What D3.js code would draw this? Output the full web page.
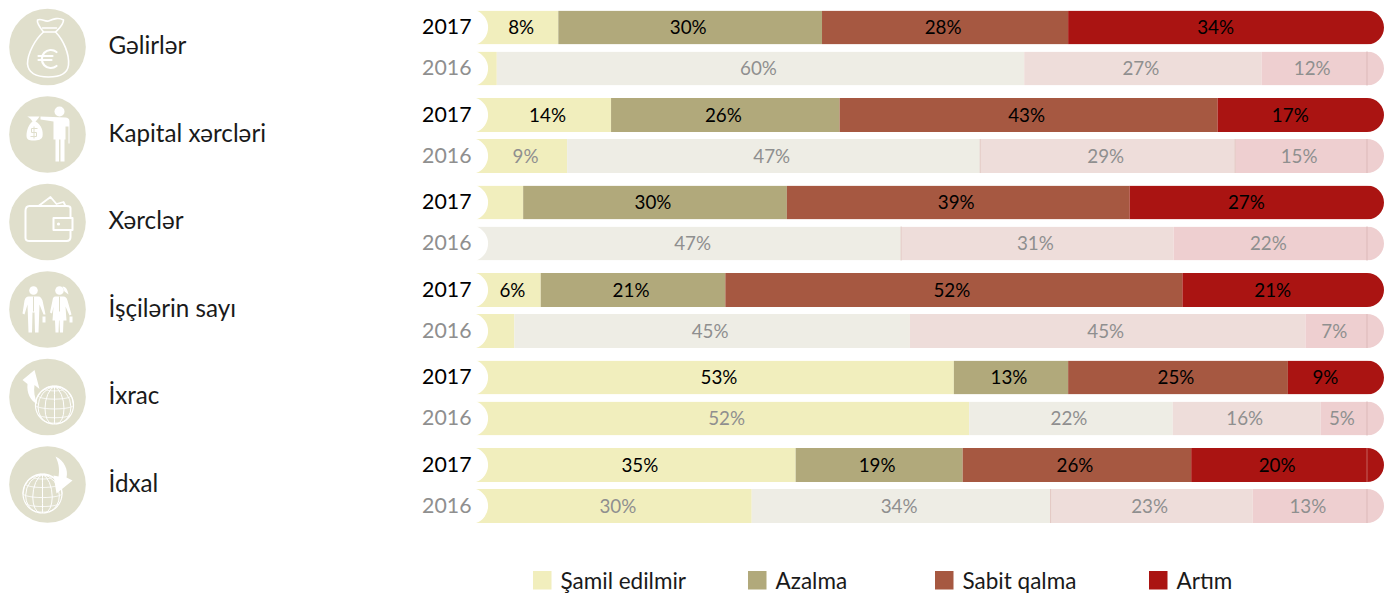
<!DOCTYPE html>
<html>
<head>
<meta charset="utf-8">
<script src="https://cdn.jsdelivr.net/npm/d3@7"></script>
<style>
  html, body { margin: 0; padding: 0; background: #fff; }
  text { font-family: Lato, "Open Sans", sans-serif; }
</style>
</head>
<body>
<div id="vis"></div>
<script>
//data----
const categories = ["Gəlirlər", "Kapital xərcləri", "Xərclər", "İşçilərin sayı", "İxrac", "İdxal"]
const years = ["2017", "2016"]
const seriesNames = ["Şamil edilmir", "Azalma", "Sabit qalma", "Artım"]

const values2017 = [
    [8, 30, 28, 34],
    [14, 26, 43, 17],
    [4, 30, 39, 27],
    [6, 21, 52, 21],
    [53, 13, 25, 9],
    [35, 19, 26, 20],
]
const values2016 = [
    [1, 60, 27, 12],
    [9, 47, 29, 15],
    [0, 47, 31, 22],
    [3, 45, 45, 7],
    [52, 22, 16, 5],
    [30, 34, 23, 13],
]
// segments under 5% have no label in the source
const hideBelow = 5

const colors2017 = ["#f1eebd", "#b1a97b", "#a65841", "#aa1412"]
const colors2016 = ["#f1eebd", "#eeede5", "#eeddda", "#eecfd0"]
const iconColor = "#e0dfcc"

// pale rows where a thin darker line shows at the start of a segment
const edgeLines = [
    ["Kapital xərcləri", 2],
    ["Kapital xərcləri", 3],
    ["Xərclər", 2],
    ["İdxal", 2],
]

//dimensions---
const dimensions = {
    width: 1384,
    height: 595,
    barLeft: 488,
    barRight: 1367,
    barHeight: 34,
    capRadius: 17,
}

const wrapper = d3.select("#vis")
    .append("svg")
    .attr("width", dimensions.width)
    .attr("height", dimensions.height)
    .style("display", "block")

//scales----
const xScale = d3.scaleLinear()
    .domain([0, 1])
    .range([dimensions.barLeft, dimensions.barRight])

const groupScale = d3.scaleBand()
    .domain(categories)
    .range([10.5, 10.5 + 87.5 * 6])

const yearScale = d3.scaleBand()
    .domain(years)
    .range([0, 75])
    .paddingInner(7 / 41)

const colorFor = { "2017": colors2017, "2016": colors2016 }

//stack every row to 100% (İxrac 2016 only adds up to 95)
const stack = d3.stack()
    .keys(d3.range(seriesNames.length))
    .offset(d3.stackOffsetExpand)

const rows = []
categories.forEach((category, i) => {
    const layers = stack([values2017[i], values2016[i]])
    years.forEach((year, j) => {
        const raw = j === 0 ? values2017[i] : values2016[i]
        const segments = layers.map((layer, k) => ({
            key: k, value: raw[k], x0: layer[j][0], x1: layer[j][1]
        })).filter(d => d.value > 0)
        rows.push({ category, year, segments })
    })
})

//bar outline: notch on the left, round cap on the right
function rowShape() {
    const h = dimensions.barHeight, r = dimensions.capRadius
    const l = dimensions.barLeft - 12, e = dimensions.barRight
    return `M${l},0 L${e},0 A${r},${r} 0 0 1 ${e},${h} L${l},${h} A18,18 0 0 0 ${l},0 Z`
}
wrapper.append("defs").append("clipPath")
    .attr("id", "row-clip")
    .append("path")
    .attr("d", rowShape())

//bars----
const rowGroups = wrapper.selectAll(".row")
    .data(rows)
    .enter().append("g")
    .attr("class", "row")
    .attr("transform", d => `translate(0, ${groupScale(d.category) + yearScale(d.year)})`)

rowGroups.append("g")
    .attr("clip-path", "url(#row-clip)")
    .selectAll("rect")
    .data(d => d.segments.map((s, i) => ({ ...s, year: d.year, first: i === 0, last: i === d.segments.length - 1 })))
    .enter().append("rect")
    .attr("x", d => d.first ? dimensions.barLeft - 14 : xScale(d.x0))
    .attr("width", d => {
        const left = d.first ? dimensions.barLeft - 14 : xScale(d.x0)
        const right = d.last ? dimensions.width : xScale(d.x1)
        return right - left
    })
    .attr("y", 0)
    .attr("height", dimensions.barHeight)
    .attr("fill", d => colorFor[d.year][d.key])

//thin line where the cap starts on the pale rows, and on İdxal 2017
rowGroups.filter(d => d.year === "2016" || d.category === "İdxal").append("line")
    .attr("x1", xScale(1)).attr("x2", xScale(1))
    .attr("y1", 0).attr("y2", dimensions.barHeight)
    .attr("stroke", d => d.year === "2016" ? "#dcb9b9" : "#c4605c")
    .attr("stroke-width", 1)

rowGroups.filter(d => d.year === "2016").selectAll(".edge")
    .data(d => d.segments.filter(s => edgeLines.some(e => e[0] === d.category && e[1] === s.key)))
    .enter().append("line")
    .attr("class", "edge")
    .attr("x1", d => xScale(d.x0)).attr("x2", d => xScale(d.x0))
    .attr("y1", 0).attr("y2", dimensions.barHeight)
    .attr("stroke", "#e3c9c4")
    .attr("stroke-width", 1)

rowGroups.selectAll(".val")
    .data(d => d.segments.filter(s => s.value >= hideBelow).map(s => ({ ...s, year: d.year })))
    .enter().append("text")
    .attr("class", "val")
    .attr("x", d => (xScale(d.x0) + xScale(d.x1)) / 2 - 2)
    .attr("y", dimensions.barHeight / 2 + 6.5)
    .attr("text-anchor", "middle")
    .attr("font-size", 18.8)
    .attr("fill", d => d.year === "2017" ? "#000" : "#8f8f8f")
    .text(d => d.value + "%")

rowGroups.append("text")
    .attr("x", 471.5)
    .attr("y", dimensions.barHeight / 2 + 6.5)
    .attr("text-anchor", "end")
    .attr("font-size", 21.3)
    .attr("fill", d => d.year === "2017" ? "#000" : "#8f8f8f")
    .text(d => d.year)

//category labels----
wrapper.selectAll(".cat")
    .data(categories)
    .enter().append("text")
    .attr("class", "cat")
    .attr("x", 108.5)
    .attr("y", d => groupScale(d) + 43.5)
    .attr("font-size", 24.2)
    .attr("fill", "#1a1a1a")
    .text(d => d)

//icons----
const iconGroups = wrapper.selectAll(".icon")
    .data(categories)
    .enter().append("g")
    .attr("class", "icon")
    .attr("transform", d => `translate(47.5, ${groupScale(d) + 36.5})`)

iconGroups.append("circle")
    .attr("r", 38.3)
    .attr("fill", iconColor)

const outline = { fill: "none", stroke: "#fff", "stroke-width": 1.6, "stroke-linejoin": "round", "stroke-linecap": "round" }
function addPath(g, d, attrs) {
    const p = g.append("path").attr("d", d)
    Object.entries(attrs).forEach(([k, v]) => p.attr(k, v))
    return p
}
function globe(g, cx, cy, r) {
    const projection = d3.geoOrthographic().scale(r).translate([cx, cy]).rotate([0, -12]).clipAngle(90)
    const path = d3.geoPath(projection)
    addPath(g, path(d3.geoGraticule().step([30, 30])()), { fill: "none", stroke: "#fff", "stroke-width": 1 })
    addPath(g, path({ type: "Sphere" }), { fill: "none", stroke: "#fff", "stroke-width": 1.2 })
}

const iconDrawers = [
    g => { // money bag
        addPath(g, "M-4,-15 C-8,-20 -11,-24 -10,-27 C-6,-29 -3,-25 1,-26 C6,-28 11,-30 16,-27 C16,-22 12,-19 8,-15 C16,-7 22,7 21,18 C20,27 12,30 1,30 C-10,30 -19,27 -20,17 C-20,6 -12,-8 -4,-15 Z", outline)
        addPath(g, "M-4,-15 L8,-15", outline)
        addPath(g, "M-5,-19 L9,-19", outline)
        addPath(g, "M9,5 A9,9 0 1 0 9,19 M-9,9 L5,9 M-9,13 L4,13", { ...outline, "stroke-width": 2.2 })
    },
    g => { // person holding a bag
        g.append("circle").attr("cx", 12).attr("cy", -23).attr("r", 5).attr("fill", "#fff")
        addPath(g, "M-7,-18 L-7,-15 L6,-13 L6,5 L8,5 L8,27 L11.5,27 L11.5,5 L13,5 L13,27 L17,27 L17,5 L18,5 L18,-8 L21,-8 L21,9 L22,9 L22,-13 C22,-16 20,-17 18,-17 Z", { fill: "#fff" })
        addPath(g, "M-15,-13 C-17,-17 -21,-18 -20,-18 L-8,-18 C-10,-15 -11,-14 -12,-13 C-6,-10 -4,-3 -5,2 C-6,5 -9,6 -14,6 C-19,6 -21,5 -21,1 C-21,-4 -19,-10 -15,-13 Z", { fill: "#fff" })
        addPath(g, "M-10,-6 L-16,-6 L-16,-2 L-11,-2 L-11,2 L-17,2 M-13.5,-8 L-13.5,4", { fill: "none", stroke: iconColor, "stroke-width": 1 })
    },
    g => { // wallet
        addPath(g, "M23,-4 L23,-14 C23,-16 21,-16 19,-16 L-18,-16 C-22,-16 -22,-13 -22,-11 L-22,16 C-22,19 -20,19 -18,19 L19,19 C22,19 23,18 23,15 L23,9", { ...outline, "stroke-width": 2 })
        addPath(g, "M-9,-16 L3,-25 L9,-18 L16,-20 L18,-16", { ...outline, "stroke-width": 1.8 })
        addPath(g, "M6,-4 L25,-4 L25,8 L6,8 Z", { ...outline, "stroke-width": 2 })
        g.append("circle").attr("cx", 11).attr("cy", 2).attr("r", 1.6).attr("fill", "#fff")
    },
    g => { // two employees
        g.append("circle").attr("cx", -14).attr("cy", -19).attr("r", 4.3).attr("fill", "#fff")
        addPath(g, "M-19,-13 L-9,-13 C-7,-13 -6,-11 -5,-9 L-2,5 L-4,5 L-8,-5 L-9,23 L-12.5,23 L-13,3 L-15,3 L-15.5,23 L-19,23 L-20,-5 L-23,5 L-25,4 L-23,-9 C-22,-12 -21,-13 -19,-13 Z", { fill: "#fff" })
        addPath(g, "M-14,-13 L-14,2", { fill: "none", stroke: iconColor, "stroke-width": 1 })
        addPath(g, "M-5,7 L-2,7 L-2,13 L-5,13 Z", { fill: "#fff" })
        g.append("circle").attr("cx", 12).attr("cy", -19).attr("r", 4.3).attr("fill", "#fff")
        addPath(g, "M15,-23 C19,-23 20,-19 21,-15 L17,-18 Z", { fill: "#fff" })
        addPath(g, "M8,-13 L16,-13 C18,-13 19,-12 20,-9 L24,5 L22,6 L18,-3 L19,11 L16,11 L15.5,23 L12.5,23 L12,11 L11.5,11 L11,23 L8,23 L7.5,11 L5,11 L6,-3 L4.5,4 L2.5,3 L5,-9 C5.5,-12 6,-13 8,-13 Z", { fill: "#fff" })
        addPath(g, "M12,-13 L12,2", { fill: "none", stroke: iconColor, "stroke-width": 1 })
        addPath(g, "M22,7 L25,7 L25,13 L22,13 Z", { fill: "#fff" })
    },
    g => { // export: globe with arrow going up
        globe(g, 7, 8, 19)
        addPath(g, "M-25,-17 L-13,-27 L-8,-8 L-13,-12 C-14,-6 -13,1 -10,7 C-17,4 -21,-4 -20,-13 Z", { fill: "#fff" })
    },
    g => { // import: globe with arrow coming down
        globe(g, -5, 9, 19.5)
        addPath(g, "M8,-28 C17,-24 21,-14 19,-7 L25,-4 L9,9 L6,-9 L11,-8 C12,-13 12,-20 8,-28 Z", { fill: "#fff" })
    },
]
iconGroups.each(function(d, i) { iconDrawers[i](d3.select(this)) })

//legend----
const swatchX = d3.scaleOrdinal().domain(seriesNames).range([533, 748, 935, 1149])

const legendItems = wrapper.selectAll(".legend-item")
    .data(seriesNames)
    .enter().append("g")
    .attr("class", "legend-item")
    .attr("transform", d => `translate(${swatchX(d)}, 571)`)

legendItems.append("rect")
    .attr("width", 18.5)
    .attr("height", 18.5)
    .attr("fill", (d, i) => colors2017[i])

legendItems.append("text")
    .attr("x", 27.5)
    .attr("y", 17.5)
    .attr("font-size", 22.5)
    .attr("fill", "#1a1a1a")
    .text(d => d)
</script>
</body>
</html>
